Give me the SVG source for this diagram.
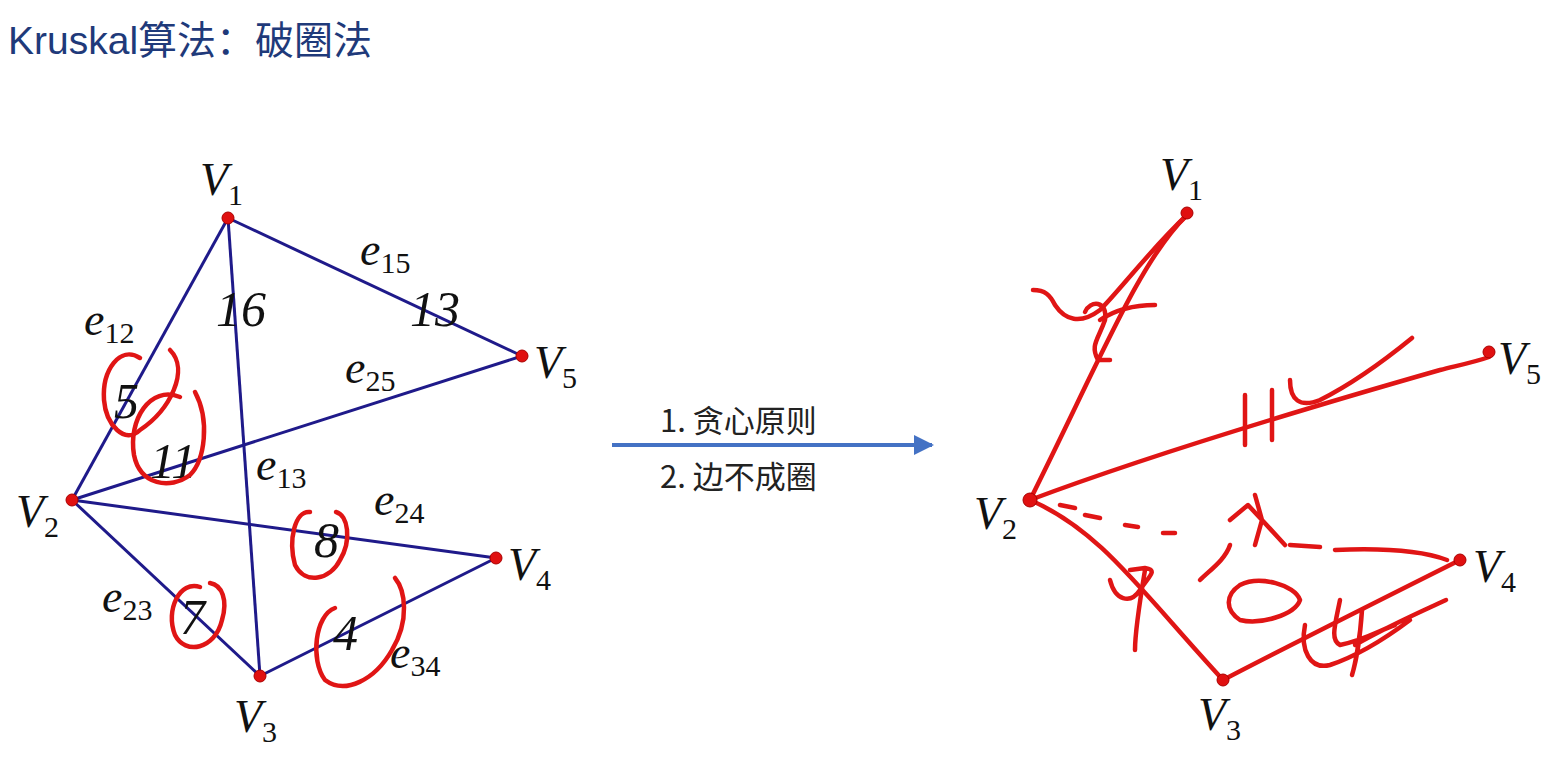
<svg xmlns="http://www.w3.org/2000/svg" width="1560" height="757" viewBox="0 0 1560 757">
<defs>
<style>
.e{stroke:#1f1a8a;stroke-width:3;fill:none}
.dot{fill:#e01010;stroke:#a00;stroke-width:1}
.lbl{font-family:"Liberation Serif",serif;font-style:italic;font-size:46px;fill:#111}
.sub{font-size:30px;font-style:normal}
.w{font-family:"Liberation Serif",serif;font-style:italic;font-size:50px;fill:#111}
.ink{stroke:#e01515;stroke-width:4.5;fill:none;stroke-linecap:round;stroke-linejoin:round}
.cn{font-family:"Noto Sans CJK SC","Noto Sans",serif;font-size:31px;fill:#222}
</style>
<marker id="ah" viewBox="0 0 10 10" refX="9" refY="5" markerWidth="5" markerHeight="5" orient="auto"><path d="M0,0 L10,5 L0,10 z" fill="#4472c4"/></marker>
</defs>
<rect width="1560" height="757" fill="#fff"/>
<text x="8" y="54" font-family="'Liberation Sans','Noto Sans CJK SC',sans-serif" font-size="39" fill="#1f3a7a">Kruskal算法：破圈法</text>

<g id="connectors">
<line class="e" x1="228" y1="218" x2="72" y2="500"/>
<line class="e" x1="228" y1="218" x2="260" y2="676"/>
<line class="e" x1="228" y1="218" x2="522" y2="356"/>
<line class="e" x1="72" y1="500" x2="522" y2="356"/>
<line class="e" x1="72" y1="500" x2="496" y2="558"/>
<line class="e" x1="72" y1="500" x2="260" y2="676"/>
<line class="e" x1="260" y1="676" x2="496" y2="558"/>
<line x1="612" y1="445" x2="932" y2="445" stroke="#4472c4" stroke-width="4" marker-end="url(#ah)"/>
</g>

<g id="left-labels">
<text class="lbl" x="84" y="335">e<tspan class="sub" dy="8">12</tspan></text>
<text class="lbl" x="360" y="265">e<tspan class="sub" dy="8">15</tspan></text>
<text class="lbl" x="345" y="383">e<tspan class="sub" dy="8">25</tspan></text>
<text class="lbl" x="256" y="480">e<tspan class="sub" dy="8">13</tspan></text>
<text class="lbl" x="374" y="515">e<tspan class="sub" dy="8">24</tspan></text>
<text class="lbl" x="102" y="612">e<tspan class="sub" dy="8">23</tspan></text>
<text class="lbl" x="390" y="668">e<tspan class="sub" dy="8">34</tspan></text>
<text class="w" x="216" y="326">16</text>
<text class="w" x="410" y="326">13</text>
<text class="w" x="114" y="418">5</text>
<text class="w" x="150" y="478">11</text>
<text class="w" x="314" y="557">8</text>
<text class="w" x="180" y="634">7</text>
<text class="w" x="333" y="650">4</text>
</g>
<g id="left-circles">
<path class="ink" d="M140,358 C120,345 102,370 104,400 C106,425 125,445 140,430 C170,410 190,370 170,350"/>
<path class="ink" d="M180,397 C150,385 128,420 134,455 C140,485 170,490 190,475 C205,460 210,420 195,392"/>
<path class="ink" d="M310,512 C295,510 288,540 295,565 C305,585 330,580 340,560 C352,540 348,515 336,512"/>
<path class="ink" d="M200,587 C180,580 165,610 175,635 C185,655 215,650 222,620 C228,600 222,585 210,583"/>
<path class="ink" d="M335,608 C315,615 310,660 325,680 C345,695 375,680 392,650 C410,620 405,590 395,578"/>
</g>

<g id="V1"><circle class="dot" cx="228" cy="218" r="6"/><text class="lbl" x="200" y="195">V<tspan class="sub" dy="10">1</tspan></text></g>
<g id="V2"><circle class="dot" cx="72" cy="500" r="6"/><text class="lbl" x="16" y="527">V<tspan class="sub" dy="10">2</tspan></text></g>
<g id="V3"><circle class="dot" cx="260" cy="676" r="6"/><text class="lbl" x="234" y="732">V<tspan class="sub" dy="10">3</tspan></text></g>
<g id="V4"><circle class="dot" cx="496" cy="558" r="6"/><text class="lbl" x="508" y="580">V<tspan class="sub" dy="10">4</tspan></text></g>
<g id="V5"><circle class="dot" cx="522" cy="356" r="6"/><text class="lbl" x="534" y="378">V<tspan class="sub" dy="10">5</tspan></text></g>

<g id="arrow-labels">
<text class="cn" x="660" y="432">1. 贪心原则</text>
<text class="cn" x="660" y="488">2. 边不成圈</text>
</g>

<g id="right-ink">
<path class="ink" d="M1187,215 C1140,260 1100,360 1030,500"/>
<path class="ink" d="M1187,215 C1150,250 1120,290 1100,310 C1080,325 1065,320 1055,305 C1050,295 1045,290 1033,290"/>
<path class="ink" d="M1030,500 C1150,455 1300,410 1440,370 C1460,365 1475,362 1489,357"/>
<path class="ink" d="M1030,500 C1100,530 1140,590 1223,680 C1300,640 1400,590 1460,560"/>
<path class="ink" d="M1060,505 L1075,508 M1085,515 L1100,518 M1125,525 L1138,527 M1163,533 L1175,533 M1255,495 L1262,520 L1255,545 M1230,520 L1248,505 L1262,520 L1285,545 M1290,545 L1320,547 M1335,550 C1380,548 1420,550 1447,560"/>
<path class="ink" d="M1085,312 C1090,300 1108,300 1105,320 C1098,340 1090,345 1098,360 L1110,360"/>
<path class="ink" d="M1100,320 C1115,310 1135,305 1155,305"/>
<path class="ink" d="M1245,395 L1245,445 M1272,390 L1272,440 M1290,380 C1290,400 1300,408 1320,400 C1350,385 1385,360 1412,338"/>
<path class="ink" d="M1110,580 C1115,600 1130,605 1140,590 C1150,575 1158,570 1145,568 L1130,570 M1145,570 C1140,600 1135,630 1135,650"/>
<path class="ink" d="M1200,580 C1210,570 1225,560 1230,545"/>
<path class="ink" d="M1240,585 C1260,575 1295,585 1300,600 C1295,615 1260,625 1240,620 C1225,610 1225,595 1240,585"/>
<path class="ink" d="M1305,625 C1300,650 1310,670 1330,665 C1360,655 1390,635 1410,620 M1340,600 C1335,625 1330,640 1340,645 C1365,640 1380,630 1395,625 M1362,610 C1360,640 1355,665 1352,675 M1355,645 C1390,625 1420,612 1446,600"/>
<circle class="dot" cx="1187" cy="213" r="6"/>
<circle class="dot" cx="1030" cy="500" r="7"/>
<circle class="dot" cx="1223" cy="680" r="6"/>
<circle class="dot" cx="1460" cy="560" r="6"/>
<circle class="dot" cx="1489" cy="352" r="6"/>
</g>

<g id="R-V1"><text class="lbl" x="1160" y="190">V<tspan class="sub" dy="10">1</tspan></text></g>
<g id="R-V2"><text class="lbl" x="974" y="529">V<tspan class="sub" dy="10">2</tspan></text></g>
<g id="R-V3"><text class="lbl" x="1198" y="730">V<tspan class="sub" dy="10">3</tspan></text></g>
<g id="R-V4"><text class="lbl" x="1473" y="582">V<tspan class="sub" dy="10">4</tspan></text></g>
<g id="R-V5"><text class="lbl" x="1498" y="374">V<tspan class="sub" dy="10">5</tspan></text></g>
</svg>
